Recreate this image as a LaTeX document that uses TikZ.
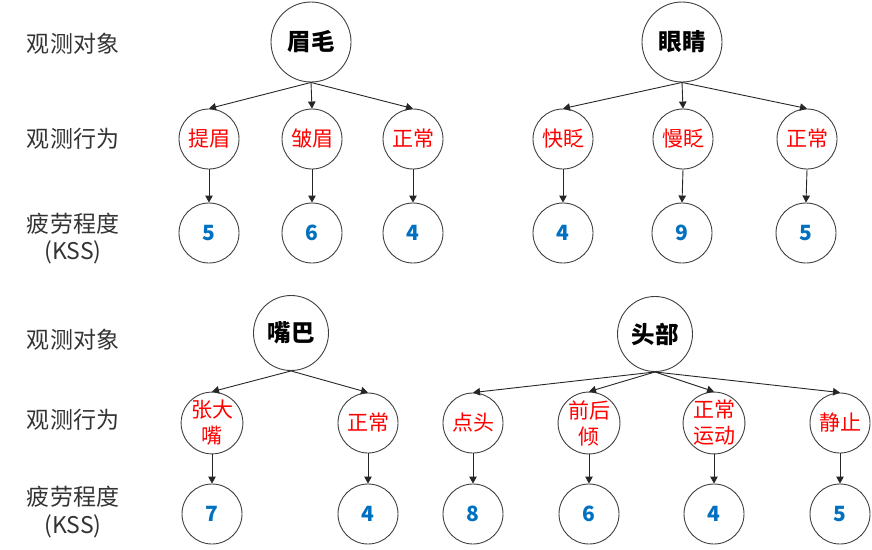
\documentclass[tikz,border=0pt]{standalone}
\usepackage{fontspec}
\setmainfont{Noto Sans CJK SC}
\usetikzlibrary{arrows.meta}
\definecolor{ringgray}{HTML}{404040}
\definecolor{arrowgray}{HTML}{262626}
\definecolor{kssblue}{HTML}{0070C0}
\definecolor{labelgray}{HTML}{333333}
\tikzset{
  ring/.style={circle, draw=ringgray, line width=0.9pt, inner sep=0pt},
  objnode/.style={ring, minimum size=80pt, font=\fontsize{23.5}{27}\selectfont\bfseries, text=black},
  behnode/.style={ring, minimum size=60pt, font=\fontsize{21}{26}\selectfont, text=red, align=center},
  kssnode/.style={ring, minimum size=60pt, font=\fontsize{21}{25}\selectfont\bfseries, text=kssblue},
  rowlabel/.style={font=\fontsize{23}{28}\selectfont, text=labelgray, align=center},
  link/.style={draw=arrowgray, line width=0.9pt, -{Triangle[length=7pt,width=7.5pt]}}
}
\begin{document}
\begin{tikzpicture}[x=1pt, y=-1pt]
\useasboundingbox (0,0) rectangle (872,549);

% row captions, upper half
\node[rowlabel] (capA1) at (73,44) {观测对象};
\node[rowlabel] (capA2) at (73,139) {观测行为};
\node[rowlabel] (capA3) at (73,224) {疲劳程度};
\node[rowlabel] (capA4) at (73,252) {(KSS)};

% row captions, lower half
\node[rowlabel] (capB1) at (73,340) {观测对象};
\node[rowlabel] (capB2) at (73,420) {观测行为};
\node[rowlabel] (capB3) at (73,497) {疲劳程度};
\node[rowlabel] (capB4) at (73,526) {(KSS)};

% eyebrows
\node[objnode] (brow) at (311,42) {眉毛};
\node[behnode] (browA) at (209,139) {提眉};
\node[behnode] (browB) at (312,139) {皱眉};
\node[behnode] (browC) at (413,139) {正常};
\node[kssnode] (browAk) at (209,233) {5};
\node[kssnode] (browBk) at (312,233) {6};
\node[kssnode] (browCk) at (413,233) {4};

% eyes
\node[objnode] (eye) at (682,42) {眼睛};
\node[behnode] (eyeA) at (563,139) {快眨};
\node[behnode] (eyeB) at (683,139) {慢眨};
\node[behnode] (eyeC) at (807,139) {正常};
\node[kssnode] (eyeAk) at (563,233) {4};
\node[kssnode] (eyeBk) at (682,233) {9};
\node[kssnode] (eyeCk) at (806,233) {5};

% mouth
\node[objnode, minimum size=75pt] (mouth) at (291,333) {嘴巴};
\node[behnode] (mouthA) at (212,423) {张大\\嘴};
\node[behnode] (mouthB) at (368,423) {正常};
\node[kssnode] (mouthAk) at (212,514) {7};
\node[kssnode] (mouthBk) at (368,514) {4};

% head
\node[objnode, minimum size=75pt] (head) at (655,334) {头部};
\node[behnode] (headA) at (473,423) {点头};
\node[behnode] (headB) at (589,423) {前后\\倾};
\node[behnode] (headC) at (714,423) {正常\\运动};
\node[behnode] (headD) at (840,423) {静止};
\node[kssnode] (headAk) at (473,514) {8};
\node[kssnode] (headBk) at (589,514) {6};
\node[kssnode] (headCk) at (714,514) {4};
\node[kssnode] (headDk) at (840,514) {5};

% connectors
\foreach \p/\c in {brow/browA, brow/browB, brow/browC,
                   eye/eyeA, eye/eyeB, eye/eyeC,
                   mouth/mouthA, mouth/mouthB,
                   head/headA, head/headB, head/headC, head/headD}
  \draw[link] (\p.south) -- (\c.north);
\foreach \b in {browA, browB, browC, eyeA, eyeB, eyeC,
                mouthA, mouthB, headA, headB, headC, headD}
  \draw[link] (\b.south) -- (\b k.north);
\end{tikzpicture}
\end{document}
